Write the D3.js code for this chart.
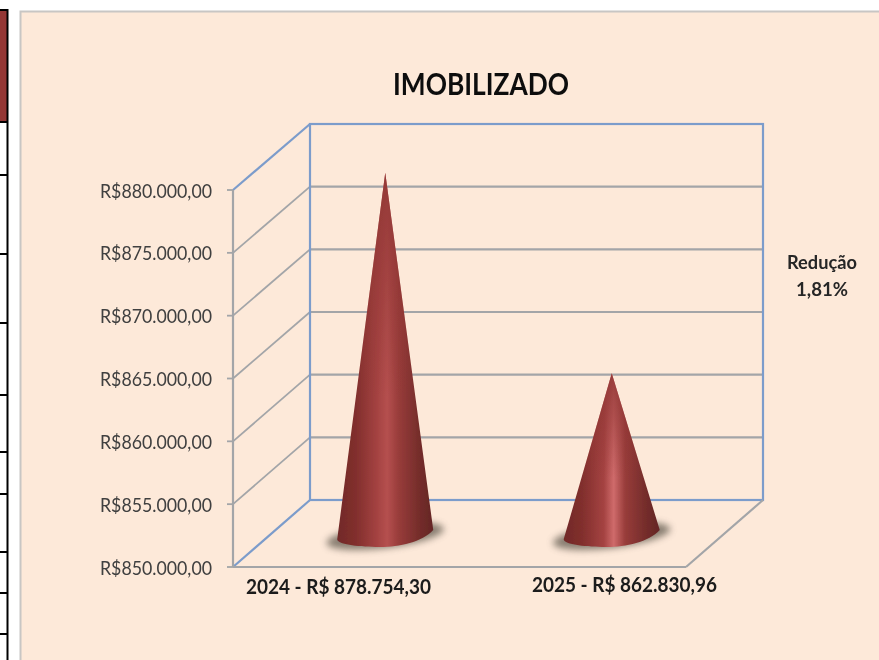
<!DOCTYPE html>
<html><head><meta charset="utf-8">
<script src="https://cdn.jsdelivr.net/npm/d3@7"></script>
<style>html,body{margin:0;padding:0;background:#fff}svg{display:block}text{font-family:Lato,"Open Sans",sans-serif}</style>
</head><body><div id="c"></div>
<script>
const categories = ["2024 - R$ 878.754,30", "2025 - R$ 862.830,96"];
const values = [878754.30, 862830.96];
const highlights = ["#b5504f", "#cf6b6b"];
const yTicks = [850000, 855000, 860000, 865000, 870000, 875000, 880000];
const title = "IMOBILIZADO";
const note = ["Redução", "1,81%"];
const noteWidths = [70, 52];
const tableRows = [122, 175, 254, 323, 395, 452, 494, 552, 593, 634];

const W = 879, H = 660;
const svg = d3.select("#c").append("svg").attr("width", W).attr("height", H);
const defs = svg.append("defs");
defs.append("filter").attr("id", "soft").attr("x", "-10%").attr("y", "-50%").attr("width", "120%").attr("height", "200%")
  .append("feGaussianBlur").attr("stdDeviation", 0.5);
defs.append("filter").attr("id", "shadow").attr("x", "-20%").attr("y", "-50%").attr("width", "140%").attr("height", "200%")
  .append("feGaussianBlur").attr("stdDeviation", 3.5);
const fade = defs.append("linearGradient").attr("id", "fade").attr("x1", 0).attr("x2", 0).attr("y1", 0).attr("y2", 1);
[[0, 0.85], [0.25, 0.5], [0.6, 0]].forEach(s => fade.append("stop").attr("offset", s[0]).attr("stop-color", "#8f3533").attr("stop-opacity", s[1]));

// neighbouring table strip
svg.append("rect").attr("x", 0).attr("y", 10).attr("width", 7).attr("height", 112).attr("fill", "#943634");
svg.append("line").attr("x1", 7.5).attr("x2", 7.5).attr("y1", 9).attr("y2", H).attr("stroke", "#000").attr("stroke-width", 2);
svg.append("line").attr("x1", 0).attr("x2", 8).attr("y1", 10).attr("y2", 10).attr("stroke", "#000").attr("stroke-width", 2);
svg.selectAll(".row").data(tableRows).join("line").attr("class", "row")
  .attr("x1", 0).attr("x2", 8).attr("y1", d => d).attr("y2", d => d).attr("stroke", "#000").attr("stroke-width", 2);

// panel
svg.append("rect").attr("x", 20.5).attr("y", 11.5).attr("width", W).attr("height", H)
  .attr("fill", "#fde9d9").attr("stroke", "#c8c6c4").attr("stroke-width", 2);

const yFront = d3.scaleLinear().domain([850000, 880000]).range([567, 190]);
const yBack = d3.scaleLinear().domain([850000, 880000]).range([500, 124]);
const yCone = d3.scaleLinear().domain([850000, 880000]).range([535, 157]);
const xFront = d3.scaleBand().domain(categories).range([233, 686]);
const depthX = 77, grey = "#a3a5a8", blue = "#7c9ccb";

const g = svg.append("g").attr("filter", "url(#soft)");
const seg = (x1, y1, x2, y2, c, w = 2.2) => g.append("line").attr("x1", x1).attr("y1", y1).attr("x2", x2).attr("y2", y2).attr("stroke", c).attr("stroke-width", w);

// gridlines: left wall and back wall
g.selectAll(".wall").data(yTicks.slice(1, -1)).join("line").attr("class", "wall")
  .attr("x1", 233).attr("x2", 233 + depthX).attr("y1", d => yFront(d)).attr("y2", d => yBack(d))
  .attr("stroke", grey).attr("stroke-width", 1.8);
g.selectAll(".back").data(yTicks.slice(1, -1)).join("line").attr("class", "back")
  .attr("x1", 233 + depthX).attr("x2", 686 + depthX).attr("y1", d => yBack(d)).attr("y2", d => yBack(d))
  .attr("stroke", grey).attr("stroke-width", 2.2);
// frame
seg(233, yFront(880000), 233 + depthX, yBack(880000), blue);
seg(233, yFront(850000), 233 + depthX, yBack(850000), blue);
g.append("rect").attr("x", 233 + depthX).attr("y", yBack(880000)).attr("width", 453).attr("height", yBack(850000) - yBack(880000))
  .attr("fill", "none").attr("stroke", blue).attr("stroke-width", 2.2);
seg(233, yFront(850000), 686, yFront(850000), grey);
seg(686, yFront(850000), 686 + depthX, yBack(850000), grey);
seg(233, yFront(850000), 233, yFront(880000), grey);
g.selectAll(".tick").data(yTicks).join("line").attr("class", "tick")
  .attr("x1", 227).attr("x2", 233).attr("y1", d => yFront(d)).attr("y2", d => yFront(d))
  .attr("stroke", grey).attr("stroke-width", 1.8);

// y labels
const fmt = v => "R$" + d3.format(",")(v).replace(/,/g, ".") + ",00";
svg.selectAll(".yl").data(yTicks).join("text").attr("class", "yl")
  .attr("x", 212).attr("y", d => yFront(d) + 7.5).attr("text-anchor", "end")
  .attr("textLength", 112).attr("lengthAdjust", "spacingAndGlyphs")
  .attr("font-size", 19).attr("fill", "#404040").attr("filter", "url(#soft)").text(fmt);

// cones
categories.forEach((c, i) => {
  const cx = xFront(c) + xFront.bandwidth() / 2 + 39;
  const r = 48, base = yCone(850000) + 2, top = yCone(values[i]);
  const id = "cone" + i;
  const lg = defs.append("linearGradient").attr("id", id).attr("x1", 0).attr("x2", 1).attr("y1", 0).attr("y2", 0);
  [[0, "#712a28"], [0.2, "#822f2d"], [0.42, "#a54342"], [0.52, highlights[i]], [0.64, "#983c3a"], [0.85, "#752d2b"], [1, "#642625"]]
    .forEach(s => lg.append("stop").attr("offset", s[0]).attr("stop-color", s[1]));
  svg.append("ellipse").attr("cx", cx).attr("cy", base - 1).attr("rx", r + 11).attr("ry", 12)
    .attr("transform", `rotate(-7 ${cx} ${base})`).attr("fill", "#6b6257").attr("opacity", 0.8).attr("filter", "url(#shadow)");
  const L = [cx - r, base + 2], R = [cx + r, base - 7];
  const path = d3.path();
  path.moveTo(cx, top);
  path.lineTo(R[0], R[1]);
  path.bezierCurveTo(cx + r * 0.75, base + 6, cx + r * 0.2, base + 11, cx - r * 0.2, base + 10);
  path.bezierCurveTo(cx - r * 0.6, base + 10, L[0] - 1, base + 7, L[0], L[1]);
  path.closePath();
  const cone = svg.append("g").attr("filter", "url(#soft)");
  cone.append("path").attr("d", path.toString()).attr("fill", `url(#${id})`);
  cone.append("path").attr("d", path.toString()).attr("fill", "url(#fade)");
});

// category labels
const catY = [594, 592], catX = [338.5, 624.5];
svg.selectAll(".cat").data(categories).join("text").attr("class", "cat")
  .attr("x", (d, i) => catX[i]).attr("y", (d, i) => catY[i]).attr("text-anchor", "middle")
  .attr("textLength", 185).attr("lengthAdjust", "spacingAndGlyphs")
  .attr("font-size", 21).attr("font-weight", 700).attr("fill", "#1a1a1a").attr("filter", "url(#soft)").text(d => d);

svg.append("text").attr("x", 481).attr("y", 95).attr("text-anchor", "middle")
  .attr("textLength", 176).attr("lengthAdjust", "spacingAndGlyphs")
  .attr("font-size", 30).attr("font-weight", 700).attr("fill", "#111").attr("filter", "url(#soft)").text(title);

svg.selectAll(".note").data(note).join("text").attr("class", "note")
  .attr("x", 822).attr("y", (d, i) => 269 + i * 27).attr("text-anchor", "middle")
  .attr("textLength", (d, i) => noteWidths[i]).attr("lengthAdjust", "spacingAndGlyphs")
  .attr("font-size", 18).attr("font-weight", 700).attr("fill", "#262626").attr("filter", "url(#soft)").text(d => d);
</script></body></html>
